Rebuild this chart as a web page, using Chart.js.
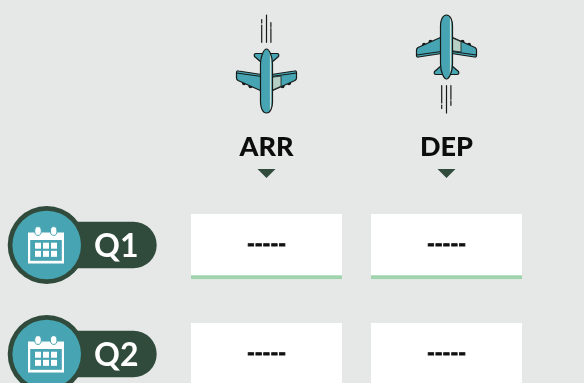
<!DOCTYPE html>
<html>
<head>
<meta charset="utf-8">
<style>
  html, body { margin: 0; padding: 0; background: #e6e8e7; overflow: hidden; }
  canvas { display: block; }
</style>
<script src="https://cdn.jsdelivr.net/npm/chart.js@4"></script>
</head>
<body>
<canvas id="board" width="584" height="383"></canvas>
<script>
// Data
const categories = ['ARR', 'DEP'];
const quarters = ['Q1', 'Q2'];
const q1Values = ['-----', '-----'];
const q2Values = ['-----', '-----'];

const DARK = '#304b3c';
const TEAL = '#47a5b3';
const MINT = '#a0d4ae';
const INK = '#161a18';

// Each card spans the same height around its row index
const cardHalf = 0.298;
const rowMin = -0.5;
const rowMax = 1.252;
const rows = quarters.map((q, i) => categories.map(() => [i - cardHalf, i + cardHalf]));

// Plane drawn nose up around its centre, flip = -1 turns it nose down
function drawPlane(ctx, cx, cy, flip) {
  ctx.save();
  ctx.translate(cx, cy);
  ctx.scale(1, flip);
  ctx.lineJoin = 'round';
  ctx.lineCap = 'round';

  // Trails
  ctx.strokeStyle = INK;
  ctx.lineWidth = 1.2;
  [[-4.8, 38.7, 56], [-4.8, 58, 61.5], [0, 38.7, 66], [4.4, 38.7, 52.3], [4.4, 53.8, 58.3]].forEach(t => {
    ctx.beginPath();
    ctx.moveTo(t[0], t[1]);
    ctx.lineTo(t[0], t[2]);
    ctx.stroke();
  });

  ctx.strokeStyle = INK;
  ctx.lineWidth = 1.2;

  // Engines
  ctx.fillStyle = INK;
  [[-22.5, -2.2], [-16, -5.2], [22.5, -2.2], [16, -5.2]].forEach(e => {
    ctx.beginPath();
    ctx.arc(e[0], e[1], 2, 0, Math.PI * 2);
    ctx.fill();
  });

  // Wings
  [-1, 1].forEach(side => {
    ctx.beginPath();
    ctx.moveTo(side * 5, -10);
    ctx.lineTo(side * 28.5, 0.5);
    ctx.quadraticCurveTo(side * 30, 1.5, side * 30, 3);
    ctx.lineTo(side * 30, 8.5);
    ctx.quadraticCurveTo(side * 30, 10.5, side * 28, 10);
    ctx.lineTo(side * 5, 6.5);
    ctx.closePath();
    ctx.fillStyle = TEAL;
    ctx.fill();
    ctx.stroke();
    // Trailing edge
    ctx.beginPath();
    ctx.moveTo(side * 5, 4.5);
    ctx.lineTo(side * 30, 8);
    ctx.stroke();
  });

  // Pale inner panel on the right wing
  ctx.fillStyle = '#b6d0c6';
  ctx.beginPath();
  ctx.moveTo(6, -9);
  ctx.lineTo(14.5, -5.2);
  ctx.lineTo(14.5, 5);
  ctx.lineTo(6, 3.8);
  ctx.closePath();
  ctx.fill();
  ctx.lineWidth = 0.8;
  ctx.stroke();
  ctx.lineWidth = 1.2;

  // Tail
  ctx.beginPath();
  ctx.moveTo(-5, 18.5);
  ctx.lineTo(-12, 24.5);
  ctx.quadraticCurveTo(-13, 27.5, -10.5, 27.5);
  ctx.lineTo(10.5, 27.5);
  ctx.quadraticCurveTo(13, 27.5, 12, 24.5);
  ctx.lineTo(5, 18.5);
  ctx.closePath();
  ctx.fillStyle = TEAL;
  ctx.fill();
  ctx.stroke();

  // Fuselage
  ctx.beginPath();
  ctx.moveTo(0, -32);
  ctx.bezierCurveTo(3.8, -32, 6, -27, 6, -21);
  ctx.lineTo(6, 17);
  ctx.bezierCurveTo(6, 25, 2.5, 32, 0, 32);
  ctx.bezierCurveTo(-2.5, 32, -6, 25, -6, 17);
  ctx.lineTo(-6, -21);
  ctx.bezierCurveTo(-6, -27, -3.8, -32, 0, -32);
  ctx.closePath();
  ctx.fillStyle = TEAL;
  ctx.fill();
  // Light stripe along the right side
  ctx.save();
  ctx.clip();
  ctx.fillStyle = '#cfe0d9';
  ctx.fillRect(3.4, -32, 1.4, 64);
  ctx.restore();
  ctx.stroke();
  ctx.restore();
}

function drawBadge(ctx, cy) {
  // Pill
  ctx.fillStyle = DARK;
  ctx.beginPath();
  ctx.roundRect(46, cy - 23.3, 110.7, 46.6, 23.3);
  ctx.fill();
  // Ring and disc
  ctx.beginPath();
  ctx.arc(46.7, cy, 39, 0, Math.PI * 2);
  ctx.fill();
  ctx.fillStyle = TEAL;
  ctx.beginPath();
  ctx.arc(46.7, cy, 34.3, 0, Math.PI * 2);
  ctx.fill();
  // Calendar
  ctx.fillStyle = '#fff';
  ctx.fillRect(28, cy - 12.5, 36, 31);
  ctx.fillStyle = TEAL;
  ctx.fillRect(30.2, cy - 5, 31.6, 20.8);
  ctx.fillStyle = '#fff';
  [35, 43, 51].forEach(x => {
    [cy - 2.3, cy + 5.8].forEach(y => ctx.fillRect(x, y, 6, 6));
  });
  [38, 53.7].forEach(x => {
    ctx.beginPath();
    ctx.ellipse(x, cy - 14, 3.3, 4.4, 0, 0, Math.PI * 2);
    ctx.fillStyle = '#fff';
    ctx.fill();
    ctx.strokeStyle = TEAL;
    ctx.lineWidth = 1;
    ctx.stroke();
  });
}

const decorPlugin = {
  id: 'decor',
  beforeDraw(chart) {
    const ctx = chart.ctx;
    const x = chart.scales.x;
    const y = chart.scales.y;
    ctx.save();
    ctx.fillStyle = '#e6e8e7';
    ctx.fillRect(0, 0, chart.width, chart.height);

    drawPlane(ctx, x.getPixelForValue(0), 81, -1);
    drawPlane(ctx, x.getPixelForValue(1), 47, 1);

    // Pointers under the category labels
    categories.forEach((c, i) => {
      const px = x.getPixelForValue(i);
      ctx.fillStyle = DARK;
      ctx.beginPath();
      ctx.moveTo(px - 9, 169);
      ctx.lineTo(px + 9, 169);
      ctx.lineTo(px, 178);
      ctx.closePath();
      ctx.fill();
    });

    quarters.forEach((q, i) => drawBadge(ctx, y.getPixelForValue(i) - 1.5));
    ctx.restore();
  },
  afterDatasetsDraw(chart) {
    const ctx = chart.ctx;
    ctx.save();
    ctx.font = '900 21px Lato';
    ctx.fillStyle = '#111';
    ctx.strokeStyle = '#111';
    ctx.lineWidth = 0.8;
    ctx.textAlign = 'center';
    ctx.textBaseline = 'middle';
    chart.data.datasets.forEach((ds, d) => {
      chart.getDatasetMeta(d).data.forEach((bar, i) => {
        const c = bar.getCenterPoint();
        ctx.fillText(ds.values[i], c.x, c.y - 2);
        ctx.strokeText(ds.values[i], c.x, c.y - 2);
      });
    });
    ctx.restore();
  }
};

function cardDataset(i, values) {
  return {
    label: quarters[i],
    data: rows[i],
    values: values,
    backgroundColor: '#ffffff',
    borderColor: MINT,
    borderWidth: { bottom: 4 },
    borderSkipped: false,
    borderRadius: 0,
    barThickness: 151,
    grouped: false
  };
}

new Chart(document.getElementById('board'), {
  type: 'bar',
  data: {
    labels: categories,
    datasets: [cardDataset(0, q1Values), cardDataset(1, q2Values)]
  },
  options: {
    responsive: false,
    animation: false,
    events: [],
    layout: { autoPadding: false, padding: { top: 0, right: 47.5, bottom: 0, left: 0 } },
    plugins: { legend: { display: false }, tooltip: { enabled: false } },
    scales: {
      x: {
        position: 'top',
        grid: { display: false, drawTicks: false },
        border: { display: false },
        afterFit(scale) { scale.height = 192; },
        ticks: {
          color: '#0c0c0c',
          font: { family: 'Lato', weight: '900', size: 27 },
          padding: 29,
          maxRotation: 0,
          autoSkip: false
        }
      },
      y: {
        reverse: true,
        min: rowMin,
        max: rowMax,
        bounds: 'data',
        grid: { display: false, drawTicks: false },
        border: { display: false },
        afterFit(scale) {
          scale.width = 176.5;
          // the tick padding would otherwise shrink the plot height
          scale.paddingTop = 0;
          scale.paddingBottom = 0;
        },
        afterBuildTicks(scale) { scale.ticks = quarters.map((q, i) => ({ value: i })); },
        ticks: {
          color: '#ffffff',
          font: { family: 'Lato', weight: 'bold', size: 32 },
          padding: 38,
          callback: v => quarters[v]
        }
      }
    }
  },
  plugins: [decorPlugin]
});
</script>
</body>
</html>
